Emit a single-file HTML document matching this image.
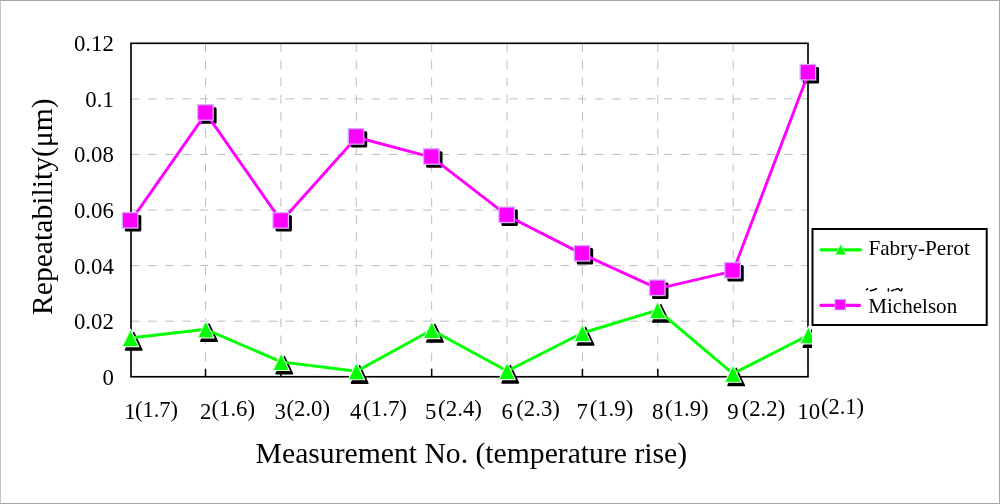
<!DOCTYPE html>
<html lang="en"><head><meta charset="utf-8"><title>Repeatability chart</title>
<style>
html,body{margin:0;padding:0;background:#fff;}
body{width:1000px;height:504px;overflow:hidden;position:relative;}
#chart{position:absolute;left:0;top:0;width:1000px;height:504px;box-sizing:border-box;border:1px solid #a6a6a6;border-left-color:#c4c4c4;background:#fff;}
svg{position:absolute;left:0;top:0;}
text{font-family:"Liberation Serif", "DejaVu Serif", serif;fill:#000;}
</style></head><body>
<div id="chart"></div>
<svg width="1000" height="504" viewBox="0 0 1000 504">
<defs><clipPath id="clipR"><rect x="0" y="0" width="812" height="504"/></clipPath></defs>
<g stroke="#bdbdbd" stroke-width="1" fill="none" stroke-dasharray="8.6 8.59">
<line x1="130.90" y1="98.88" x2="808.00" y2="98.88"/>
<line x1="130.90" y1="154.45" x2="808.00" y2="154.45"/>
<line x1="130.90" y1="210.02" x2="808.00" y2="210.02"/>
<line x1="130.90" y1="265.60" x2="808.00" y2="265.60"/>
<line x1="130.90" y1="321.18" x2="808.00" y2="321.18"/>
</g>
<g stroke="#bdbdbd" stroke-width="1" fill="none" stroke-dasharray="8.7 8.49">
<line x1="205.53" y1="43.30" x2="205.53" y2="376.75"/>
<line x1="280.91" y1="43.30" x2="280.91" y2="376.75"/>
<line x1="356.29" y1="43.30" x2="356.29" y2="376.75"/>
<line x1="431.67" y1="43.30" x2="431.67" y2="376.75"/>
<line x1="507.05" y1="43.30" x2="507.05" y2="376.75"/>
<line x1="582.43" y1="43.30" x2="582.43" y2="376.75"/>
<line x1="657.81" y1="43.30" x2="657.81" y2="376.75"/>
<line x1="733.19" y1="43.30" x2="733.19" y2="376.75"/>
</g>
<g stroke="#000" stroke-width="1.5">
<line x1="205.53" y1="368.75" x2="205.53" y2="376.75"/>
<line x1="280.91" y1="368.75" x2="280.91" y2="376.75"/>
<line x1="356.29" y1="368.75" x2="356.29" y2="376.75"/>
<line x1="431.67" y1="368.75" x2="431.67" y2="376.75"/>
<line x1="507.05" y1="368.75" x2="507.05" y2="376.75"/>
<line x1="582.43" y1="368.75" x2="582.43" y2="376.75"/>
<line x1="657.81" y1="368.75" x2="657.81" y2="376.75"/>
<line x1="733.19" y1="368.75" x2="733.19" y2="376.75"/>
</g>
<rect x="131.00" y="43.30" width="677.00" height="333.45" fill="none" stroke="#000" stroke-width="1.65"/>
<g clip-path="url(#clipR)">
<polygon points="133.70,332.70 141.90,349.90 125.50,349.90" fill="#000" stroke="#000" stroke-width="1.6" stroke-linejoin="round"/>
<polygon points="209.01,324.00 217.21,341.20 200.81,341.20" fill="#000" stroke="#000" stroke-width="1.6" stroke-linejoin="round"/>
<polygon points="284.32,356.60 292.52,373.80 276.12,373.80" fill="#000" stroke="#000" stroke-width="1.6" stroke-linejoin="round"/>
<polygon points="359.63,365.90 367.83,383.10 351.43,383.10" fill="#000" stroke="#000" stroke-width="1.6" stroke-linejoin="round"/>
<polygon points="434.94,324.70 443.14,341.90 426.74,341.90" fill="#000" stroke="#000" stroke-width="1.6" stroke-linejoin="round"/>
<polygon points="510.25,365.70 518.45,382.90 502.05,382.90" fill="#000" stroke="#000" stroke-width="1.6" stroke-linejoin="round"/>
<polygon points="585.56,327.70 593.76,344.90 577.36,344.90" fill="#000" stroke="#000" stroke-width="1.6" stroke-linejoin="round"/>
<polygon points="660.87,304.80 669.07,322.00 652.67,322.00" fill="#000" stroke="#000" stroke-width="1.6" stroke-linejoin="round"/>
<polygon points="736.18,368.35 744.38,385.55 727.98,385.55" fill="#000" stroke="#000" stroke-width="1.6" stroke-linejoin="round"/>
<polygon points="811.49,330.00 819.69,347.20 803.29,347.20" fill="#000" stroke="#000" stroke-width="1.6" stroke-linejoin="round"/>
<polyline points="130.50,338.00 205.81,329.30 281.12,361.90 356.43,371.20 431.74,330.00 507.05,371.00 582.36,333.00 657.67,310.10 732.98,373.65 808.29,335.30" fill="none" stroke="#00ff00" stroke-width="2.9" stroke-linejoin="round"/>
<polygon points="130.50,329.40 138.70,346.60 122.30,346.60" fill="#00ff00" stroke="#e4ffe4" stroke-width="1.1" stroke-linejoin="miter"/>
<polygon points="205.81,320.70 214.01,337.90 197.61,337.90" fill="#00ff00" stroke="#e4ffe4" stroke-width="1.1" stroke-linejoin="miter"/>
<polygon points="281.12,353.30 289.32,370.50 272.92,370.50" fill="#00ff00" stroke="#e4ffe4" stroke-width="1.1" stroke-linejoin="miter"/>
<polygon points="356.43,362.60 364.63,379.80 348.23,379.80" fill="#00ff00" stroke="#e4ffe4" stroke-width="1.1" stroke-linejoin="miter"/>
<polygon points="431.74,321.40 439.94,338.60 423.54,338.60" fill="#00ff00" stroke="#e4ffe4" stroke-width="1.1" stroke-linejoin="miter"/>
<polygon points="507.05,362.40 515.25,379.60 498.85,379.60" fill="#00ff00" stroke="#e4ffe4" stroke-width="1.1" stroke-linejoin="miter"/>
<polygon points="582.36,324.40 590.56,341.60 574.16,341.60" fill="#00ff00" stroke="#e4ffe4" stroke-width="1.1" stroke-linejoin="miter"/>
<polygon points="657.67,301.50 665.87,318.70 649.47,318.70" fill="#00ff00" stroke="#e4ffe4" stroke-width="1.1" stroke-linejoin="miter"/>
<polygon points="732.98,365.05 741.18,382.25 724.78,382.25" fill="#00ff00" stroke="#e4ffe4" stroke-width="1.1" stroke-linejoin="miter"/>
<polygon points="808.29,326.70 816.49,343.90 800.09,343.90" fill="#00ff00" stroke="#e4ffe4" stroke-width="1.1" stroke-linejoin="miter"/>
</g>
<rect x="124.90" y="215.10" width="16.4" height="16.4" rx="1.5" fill="#000"/>
<rect x="200.21" y="107.30" width="16.4" height="16.4" rx="1.5" fill="#000"/>
<rect x="275.52" y="215.20" width="16.4" height="16.4" rx="1.5" fill="#000"/>
<rect x="350.83" y="131.20" width="16.4" height="16.4" rx="1.5" fill="#000"/>
<rect x="426.14" y="151.30" width="16.4" height="16.4" rx="1.5" fill="#000"/>
<rect x="501.45" y="209.60" width="16.4" height="16.4" rx="1.5" fill="#000"/>
<rect x="576.76" y="248.10" width="16.4" height="16.4" rx="1.5" fill="#000"/>
<rect x="652.07" y="282.55" width="16.4" height="16.4" rx="1.5" fill="#000"/>
<rect x="727.38" y="265.10" width="16.4" height="16.4" rx="1.5" fill="#000"/>
<rect x="802.69" y="67.00" width="16.4" height="16.4" rx="1.5" fill="#000"/>
<polyline points="130.70,221.15 206.01,113.35 281.32,221.25 356.63,137.25 431.94,157.35 507.25,215.65 582.56,254.15 657.87,288.60 733.18,271.15 808.49,73.05" fill="none" stroke="#ff00ff" stroke-width="2.9" stroke-linejoin="round"/>
<rect x="122.35" y="212.55" width="15.5" height="15.5" fill="#ff00ff" stroke="#d6adff" stroke-width="1.3"/>
<rect x="197.66" y="104.75" width="15.5" height="15.5" fill="#ff00ff" stroke="#d6adff" stroke-width="1.3"/>
<rect x="272.97" y="212.65" width="15.5" height="15.5" fill="#ff00ff" stroke="#d6adff" stroke-width="1.3"/>
<rect x="348.28" y="128.65" width="15.5" height="15.5" fill="#ff00ff" stroke="#d6adff" stroke-width="1.3"/>
<rect x="423.59" y="148.75" width="15.5" height="15.5" fill="#ff00ff" stroke="#d6adff" stroke-width="1.3"/>
<rect x="498.90" y="207.05" width="15.5" height="15.5" fill="#ff00ff" stroke="#d6adff" stroke-width="1.3"/>
<rect x="574.21" y="245.55" width="15.5" height="15.5" fill="#ff00ff" stroke="#d6adff" stroke-width="1.3"/>
<rect x="649.52" y="280.00" width="15.5" height="15.5" fill="#ff00ff" stroke="#d6adff" stroke-width="1.3"/>
<rect x="724.83" y="262.55" width="15.5" height="15.5" fill="#ff00ff" stroke="#d6adff" stroke-width="1.3"/>
<rect x="800.14" y="64.45" width="15.5" height="15.5" fill="#ff00ff" stroke="#d6adff" stroke-width="1.3"/>
<text transform="translate(73.92 51.30) scale(0.9780 1)" font-size="23.3">0.12</text>
<text transform="translate(85.32 106.88) scale(0.9780 1)" font-size="23.3">0.1</text>
<text transform="translate(73.92 162.45) scale(0.9780 1)" font-size="23.3">0.08</text>
<text transform="translate(73.92 218.02) scale(0.9780 1)" font-size="23.3">0.06</text>
<text transform="translate(73.92 273.60) scale(0.9780 1)" font-size="23.3">0.04</text>
<text transform="translate(73.92 329.18) scale(0.9780 1)" font-size="23.3">0.02</text>
<text transform="translate(102.41 384.75) scale(0.9780 1)" font-size="23.3">0</text>
<text transform="translate(124.34 418.60) scale(1.0000 1)" font-size="22.8">1</text>
<text transform="translate(134.90 417.40) scale(0.9870 1)" font-size="22.8">(1.7)</text>
<text transform="translate(199.88 418.60) scale(1.0000 1)" font-size="22.8">2</text>
<text transform="translate(211.49 416.00) scale(0.9965 1)" font-size="22.8">(1.6)</text>
<text transform="translate(274.52 418.60) scale(1.0000 1)" font-size="22.8">3</text>
<text transform="translate(286.49 416.00) scale(0.9965 1)" font-size="22.8">(2.0)</text>
<text transform="translate(350.10 418.60) scale(1.0000 1)" font-size="22.8">4</text>
<text transform="translate(363.08 416.00) scale(1.0060 1)" font-size="22.8">(1.7)</text>
<text transform="translate(425.12 418.60) scale(1.0000 1)" font-size="22.8">5</text>
<text transform="translate(438.08 416.00) scale(1.0060 1)" font-size="22.8">(2.4)</text>
<text transform="translate(501.52 418.60) scale(1.0000 1)" font-size="22.8">6</text>
<text transform="translate(516.29 416.00) scale(0.9965 1)" font-size="22.8">(2.3)</text>
<text transform="translate(576.57 418.60) scale(1.0000 1)" font-size="22.8">7</text>
<text transform="translate(589.69 416.00) scale(0.9965 1)" font-size="22.8">(1.9)</text>
<text transform="translate(652.10 418.60) scale(1.0000 1)" font-size="22.8">8</text>
<text transform="translate(665.09 416.00) scale(0.9965 1)" font-size="22.8">(1.9)</text>
<text transform="translate(727.30 418.60) scale(1.0000 1)" font-size="22.8">9</text>
<text transform="translate(741.69 416.00) scale(0.9965 1)" font-size="22.8">(2.2)</text>
<text transform="translate(797.27 418.60) scale(1.0000 1)" font-size="22.8">10</text>
<text transform="translate(820.90 414.30) scale(0.9870 1)" font-size="22.8">(2.1)</text>
<text x="255.6" y="462.8" font-size="29.8" textLength="431.5" lengthAdjust="spacingAndGlyphs">Measurement No. (temperature rise)</text>
<text transform="translate(52.2 315) rotate(-90)" font-size="30.4" textLength="216.6" lengthAdjust="spacingAndGlyphs">Repeatability(μm)</text>
<rect x="812.5" y="229" width="174.2" height="96" fill="#fff" stroke="#000" stroke-width="2"/>
<line x1="821" y1="249.8" x2="860.5" y2="249.8" stroke="#00ff00" stroke-width="3.2" stroke-linecap="round"/>
<polygon points="840.7,244.3 846.2,254.8 835.2,254.8" fill="#00ff00" stroke="#b8ffb8" stroke-width="0.9"/>
<text x="868.4" y="254.8" font-size="21" textLength="101.4" lengthAdjust="spacingAndGlyphs">Fabry-Perot</text>
<line x1="821" y1="305.3" x2="859.5" y2="305.3" stroke="#ff00ff" stroke-width="3.2" stroke-linecap="round"/>
<rect x="835" y="299.5" width="10.4" height="10.4" fill="#ff00ff" stroke="#cc99ff" stroke-width="1"/>
<text x="868.2" y="313" font-size="21" textLength="89" lengthAdjust="spacingAndGlyphs">Michelson</text>
<g fill="none" stroke="#000" stroke-width="1.5" stroke-linecap="round" transform="translate(0 0.4)">
<path d="M866.4 289.4 L867.6 288.4"/>
<path d="M870.4 290.3 Q873.5 289.8 876.4 288.4"/>
<path d="M888.4 288.4 L888.4 290.6"/>
<path d="M891.4 290.4 Q893.4 290.4 893.8 289.2"/>
<path d="M895.4 289.2 Q897.4 288 898.6 288.6 Q900.2 290.6 901 290.4 Q902 290 902 288.4"/>
</g>
</svg>
</body></html>
